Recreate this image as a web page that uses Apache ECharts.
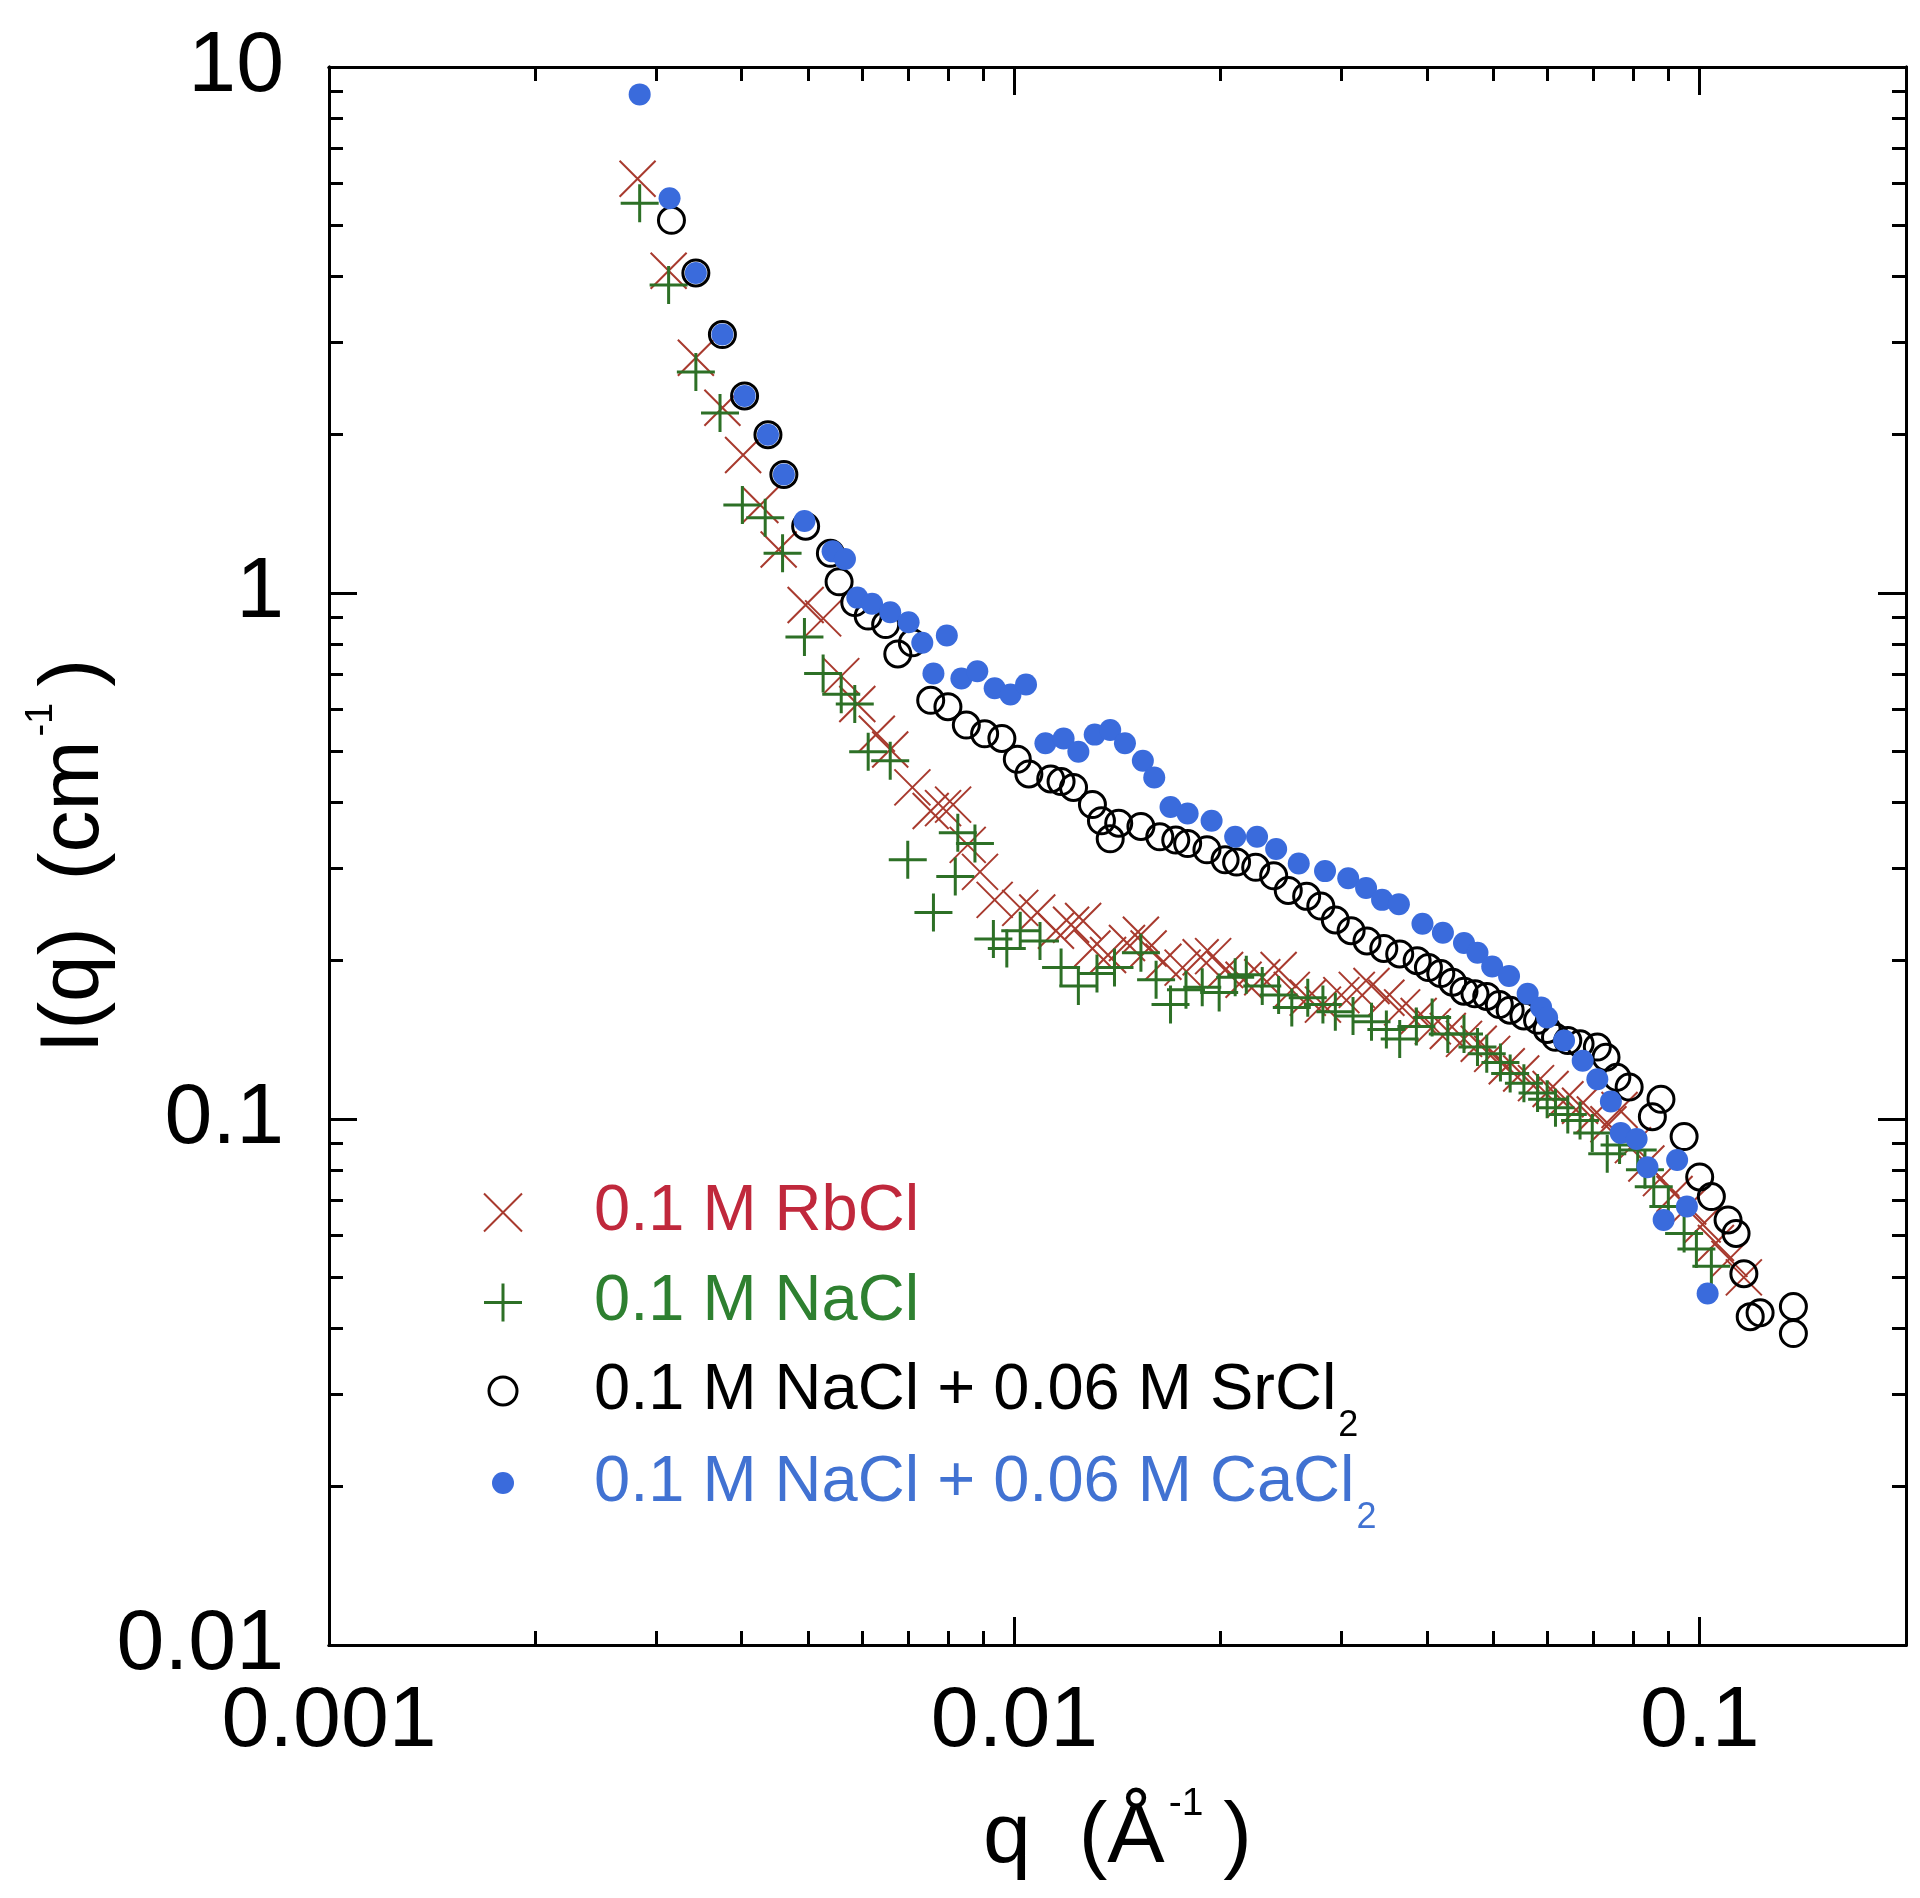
<!DOCTYPE html>
<html>
<head>
<meta charset="utf-8">
<script src="https://cdn.jsdelivr.net/npm/echarts@6/dist/echarts.min.js"></script>
<style>
html,body{margin:0;padding:0;background:#ffffff;}
#chart{width:1920px;height:1898px;}
</style>
</head>
<body>
<div id="chart"></div>
<script>
// ---- data: [q (1/Å), I(q) (1/cm)] ----
const rbcl = [
[0.00282,6.13],[0.00313,4.10],[0.00343,2.80],[0.00375,2.25],[0.00402,1.83],[0.00426,1.47],[0.00453,1.21],[0.00496,0.949],[0.00526,0.895],[0.00559,0.695],
[0.00590,0.615],[0.00630,0.540],[0.00659,0.504],[0.00710,0.427],[0.00755,0.385],[0.00787,0.390],[0.00814,0.396],[0.00855,0.332],[0.00891,0.295],[0.00936,0.261],
[0.0102,0.252],[0.0108,0.247],[0.0115,0.228],[0.0121,0.234],[0.0126,0.238],[0.0130,0.211],[0.0137,0.205],[0.0146,0.216],[0.0153,0.224],[0.0157,0.211],
[0.0165,0.199],[0.0176,0.194],[0.0187,0.203],[0.0195,0.204],[0.0203,0.192],[0.0216,0.184],[0.0230,0.186],[0.0243,0.192],[0.0254,0.176],[0.0268,0.170],
[0.0282,0.165],[0.0300,0.172],[0.0316,0.176],[0.0332,0.179],[0.0349,0.170],[0.0368,0.163],[0.0389,0.157],[0.0408,0.150],[0.0429,0.147],[0.0453,0.142],
[0.0476,0.139],[0.0498,0.133],[0.0523,0.126],[0.0549,0.122],[0.0577,0.117],[0.0606,0.114],[0.0637,0.109],[0.0669,0.106],[0.0703,0.102],[0.0736,0.0977],
[0.0764,0.104],[0.0799,0.0892],[0.0836,0.0823],[0.0878,0.0772],[0.0919,0.0720],[0.0962,0.0682],[0.101,0.0630],[0.1056,0.0581],[0.1105,0.0542],[0.116,0.0500]
];
const nacl = [
[0.00284,5.51],[0.00313,3.85],[0.00343,2.63],[0.00372,2.20],[0.00401,1.47],[0.00433,1.39],[0.00459,1.19],[0.00494,0.825],[0.00526,0.703],[0.00559,0.642],
[0.00585,0.615],[0.00612,0.499],[0.00659,0.480],[0.00699,0.311],[0.00762,0.247],[0.00820,0.289],[0.00827,0.350],[0.00876,0.334],[0.00932,0.220],[0.00975,0.211],
[0.0102,0.228],[0.0109,0.218],[0.0117,0.194],[0.0124,0.179],[0.0132,0.189],[0.0140,0.194],[0.0153,0.207],[0.0161,0.184],[0.0169,0.165],[0.0178,0.176],
[0.0188,0.178],[0.0199,0.174],[0.0210,0.186],[0.0218,0.188],[0.0230,0.179],[0.0243,0.172],[0.0254,0.163],[0.0268,0.170],[0.0282,0.165],[0.0294,0.160],
[0.0312,0.157],[0.0332,0.153],[0.0349,0.148],[0.0365,0.142],[0.0386,0.150],[0.0407,0.156],[0.0429,0.145],[0.0453,0.145],[0.0474,0.137],[0.0489,0.133],
[0.0512,0.128],[0.0529,0.122],[0.0554,0.117],[0.0580,0.112],[0.0599,0.109],[0.0616,0.105],[0.0642,0.102],[0.0669,0.0993],[0.0697,0.0941],[0.0733,0.0859],
[0.0764,0.0892],[0.0812,0.0873],[0.0832,0.0801],[0.0857,0.0743],[0.0900,0.0682],[0.0949,0.0606],[0.0989,0.0566],[0.104,0.0525]
];
const srcl2 = [
[0.00316,5.11],[0.00343,4.06],[0.00375,3.10],[0.00404,2.37],[0.00437,2.00],[0.00461,1.68],[0.00496,1.34],[0.00539,1.19],[0.00555,1.05],[0.00585,0.959],
[0.00612,0.904],[0.00649,0.871],[0.00676,0.766],[0.00710,0.804],[0.00755,0.625],[0.00800,0.608],[0.00851,0.561],[0.00905,0.540],[0.00959,0.529],[0.0101,0.483],
[0.0105,0.453],[0.0113,0.443],[0.0117,0.438],[0.0122,0.427],[0.0130,0.396],[0.0134,0.369],[0.0138,0.341],[0.0142,0.365],[0.0153,0.360],[0.0163,0.344],
[0.0172,0.339],[0.0179,0.334],[0.0191,0.325],[0.0203,0.311],[0.0211,0.308],[0.0225,0.301],[0.0239,0.290],[0.0251,0.272],[0.0267,0.265],[0.0280,0.254],
[0.0294,0.239],[0.0310,0.228],[0.0327,0.218],[0.0346,0.211],[0.0365,0.206],[0.0387,0.200],[0.0402,0.194],[0.0419,0.189],[0.0436,0.182],[0.0453,0.175],
[0.0470,0.173],[0.0489,0.171],[0.0510,0.165],[0.0529,0.161],[0.0554,0.157],[0.0580,0.154],[0.0599,0.148],[0.0616,0.143],[0.0642,0.141],[0.0669,0.139],
[0.0709,0.137],[0.0730,0.131],[0.0757,0.120],[0.0789,0.115],[0.0853,0.101],[0.0878,0.109],[0.0949,0.0926],[0.100,0.0776],[0.104,0.0712],[0.110,0.0643],
[0.113,0.0606],[0.116,0.0508],[0.1185,0.0421],[0.1225,0.0428],[0.137,0.0440],[0.137,0.0391]
];
const cacl2 = [
[0.00284,8.87],[0.00314,5.63],[0.00343,4.06],[0.00375,3.10],[0.00404,2.37],[0.00437,2.00],[0.00461,1.68],[0.00494,1.37],[0.00543,1.20],[0.00566,1.16],
[0.00590,0.980],[0.00620,0.954],[0.00659,0.919],[0.00701,0.880],[0.00734,0.804],[0.00762,0.703],[0.00797,0.830],[0.00837,0.688],[0.00883,0.710],[0.00936,0.659],
[0.00987,0.641],[0.0104,0.670],[0.0111,0.518],[0.0118,0.529],[0.0124,0.499],[0.0131,0.538],[0.0138,0.549],[0.0145,0.518],[0.0154,0.480],[0.0160,0.446],
[0.0169,0.392],[0.0179,0.381],[0.0194,0.369],[0.0210,0.344],[0.0226,0.344],[0.0241,0.326],[0.0260,0.306],[0.0284,0.296],[0.0307,0.287],[0.0326,0.275],
[0.0344,0.261],[0.0364,0.256],[0.0394,0.235],[0.0422,0.226],[0.0453,0.216],[0.0474,0.207],[0.0498,0.195],[0.0527,0.187],[0.0561,0.173],[0.0587,0.163],
[0.0599,0.156],[0.0634,0.141],[0.0675,0.129],[0.0709,0.119],[0.0742,0.108],[0.0767,0.0941],[0.0809,0.0916],[0.0839,0.0810],[0.0886,0.0643],[0.0927,0.0836],
[0.0958,0.0682],[0.1027,0.0466]
];
const seriesNames = ['0.1 M RbCl', '0.1 M NaCl', '0.1 M NaCl + 0.06 M SrCl2', '0.1 M NaCl + 0.06 M CaCl2'];

// ---- axes ----
const xRange = [0.001, 0.2];
const yRange = [0.01, 10];
const xMajorTicks = [0.001, 0.01, 0.1];
const xTickLabels = ['0.001', '0.01', '0.1'];
const xMinorTicks = [0.002,0.003,0.004,0.005,0.006,0.007,0.008,0.009,0.02,0.03,0.04,0.05,0.06,0.07,0.08,0.09];
const yMajorTicks = [0.01, 0.1, 1, 10];
const yTickLabels = ['0.01', '0.1', '1', '10'];
const yMinorTicks = [0.02,0.03,0.04,0.05,0.06,0.07,0.08,0.09,0.2,0.3,0.4,0.5,0.6,0.7,0.8,0.9,2,3,4,5,6,7,8,9];

const FONT = 'Liberation Sans';

function labelLookup(values, labels) {
  return function (v) {
    for (let i = 0; i < values.length; i++) {
      if (Math.abs(v / values[i] - 1) < 1e-6) return labels[i];
    }
    return '';
  };
}

function makeAxis(kind, position, tickValues, tickLen) {
  const isX = kind === 'x';
  return {
    type: 'log', logBase: 10, position: position, gridIndex: 0,
    min: isX ? xRange[0] : yRange[0],
    max: isX ? xRange[1] : yRange[1],
    axisLine: { show: true, onZero: false, lineStyle: { color: '#000', width: 3 } },
    axisTick: { show: true, inside: true, length: tickLen, customValues: tickValues,
                lineStyle: { color: '#000', width: 3 } },
    axisLabel: { show: false },
    splitLine: { show: false },
    minorTick: { show: false },
    minorSplitLine: { show: false },
    axisPointer: { show: false },
    silent: true
  };
}

const xMain = makeAxis('x', 'bottom', xMajorTicks, 28);
xMain.axisLabel = {
  show: true, customValues: xMajorTicks, formatter: labelLookup(xMajorTicks, xTickLabels),
  fontFamily: FONT, fontSize: 86, color: '#000', margin: 34
};
xMain.name = '{m|q  (Å}{p|-1}{m|)}';
xMain.nameLocation = 'middle';
xMain.nameGap = 150;
xMain.nameMoveOverlap = false;
xMain.nameTextStyle = {
  fontFamily: FONT, fontSize: 86, color: '#000', lineHeight: 86,
  rich: {
    m: { fontFamily: FONT, fontSize: 86, color: '#000', lineHeight: 86 },
    p: { fontFamily: FONT, fontSize: 39, color: '#000', lineHeight: 10, padding: [0, 20, 68, 4] }
  }
};

const yMain = makeAxis('y', 'left', yMajorTicks, 28);
yMain.axisLabel = {
  show: true, customValues: yMajorTicks, formatter: labelLookup(yMajorTicks, yTickLabels),
  fontFamily: FONT, fontSize: 86, color: '#000', margin: 45, padding: [0, 0, 40, 0]
};
yMain.name = '{m|I(q)  (cm}{p|-1}{m|)}';
yMain.nameLocation = 'middle';
yMain.nameRotate = 90;
yMain.nameGap = 212;
yMain.nameMoveOverlap = false;
yMain.nameTextStyle = {
  fontFamily: FONT, fontSize: 84, color: '#000', lineHeight: 84,
  rich: {
    m: { fontFamily: FONT, fontSize: 84, color: '#000', lineHeight: 84 },
    p: { fontFamily: FONT, fontSize: 38, color: '#000', lineHeight: 10, padding: [0, 16, 66, 4] }
  }
};

// ---- series styles ----
const CROSS = 'path://M0,0L20,20M20,0L0,20';
const PLUS = 'path://M10,0L10,20M0,10L20,10';
const colRb = '#a83a2e', colNa = '#2d7026', colSr = '#000000', colCa = '#3a6bdc';
const txtRb = '#c0283c', txtNa = '#2e8030', txtSr = '#000000', txtCa = '#4172d2';

function scatter(name, data, symbol, size, fill, stroke, bw) {
  return {
    type: 'scatter', name: name, data: data, xAxisIndex: 0, yAxisIndex: 0,
    symbol: symbol, symbolSize: size,
    itemStyle: { color: fill, borderColor: stroke, borderWidth: bw, opacity: 1 },
    emphasis: { disabled: true }, silent: true, animation: false
  };
}

function legendFmt(name) {
  if (/Cl2$/.test(name)) return '{t|' + name.slice(0, -1) + '}{s|2}';
  return '{t|' + name + '}';
}
// icon centred at x = 503; text starts at x = 594
function makeLegend(name, top, size, lw, color) {
  return {
    show: true, data: [name], orient: 'vertical', left: 503 - size / 2 - lw / 2, top: top, padding: 0,
    itemWidth: 172, itemHeight: size, itemGap: 0, selectedMode: false,
    itemStyle: { borderWidth: lw },
    formatter: legendFmt,
    textStyle: {
      fontFamily: FONT, fontSize: 65, color: color, lineHeight: 60,
      rich: {
        t: { fontFamily: FONT, fontSize: 65, color: color, lineHeight: 60 },
        s: { fontFamily: FONT, fontSize: 36, color: color, lineHeight: 10, padding: [70, 0, 0, 2] }
      }
    }
  };
}

const chart = echarts.init(document.getElementById('chart'), null, { renderer: 'canvas', width: 1920, height: 1898 });
chart.setOption({
  backgroundColor: '#ffffff',
  animation: false,
  textStyle: { fontFamily: FONT },
  grid: { left: 329, top: 67, width: 1577, height: 1578, containLabel: false, outerBoundsMode: 'none' },
  xAxis: [
    xMain,
    makeAxis('x', 'bottom', xMinorTicks, 14),
    makeAxis('x', 'top', xMajorTicks, 28),
    makeAxis('x', 'top', xMinorTicks, 14)
  ],
  yAxis: [
    yMain,
    makeAxis('y', 'left', yMinorTicks, 14),
    makeAxis('y', 'right', yMajorTicks, 28),
    makeAxis('y', 'right', yMinorTicks, 14)
  ],
  legend: [
    makeLegend(seriesNames[0], 1180, 38, 2, txtRb),
    makeLegend(seriesNames[1], 1270, 38, 3, txtNa),
    makeLegend(seriesNames[2], 1338, 28, 3, txtSr),
    makeLegend(seriesNames[3], 1430, 22, 0, txtCa)
  ],
  series: [
    scatter(seriesNames[0], rbcl, CROSS, 36, 'rgba(0,0,0,0)', colRb, 2),
    scatter(seriesNames[1], nacl, PLUS, 38, 'rgba(0,0,0,0)', colNa, 3),
    scatter(seriesNames[2], srcl2, 'circle', 26, 'rgba(0,0,0,0)', colSr, 3),
    scatter(seriesNames[3], cacl2, 'circle', 22, colCa, colCa, 0)
  ]
});
</script>
</body>
</html>
